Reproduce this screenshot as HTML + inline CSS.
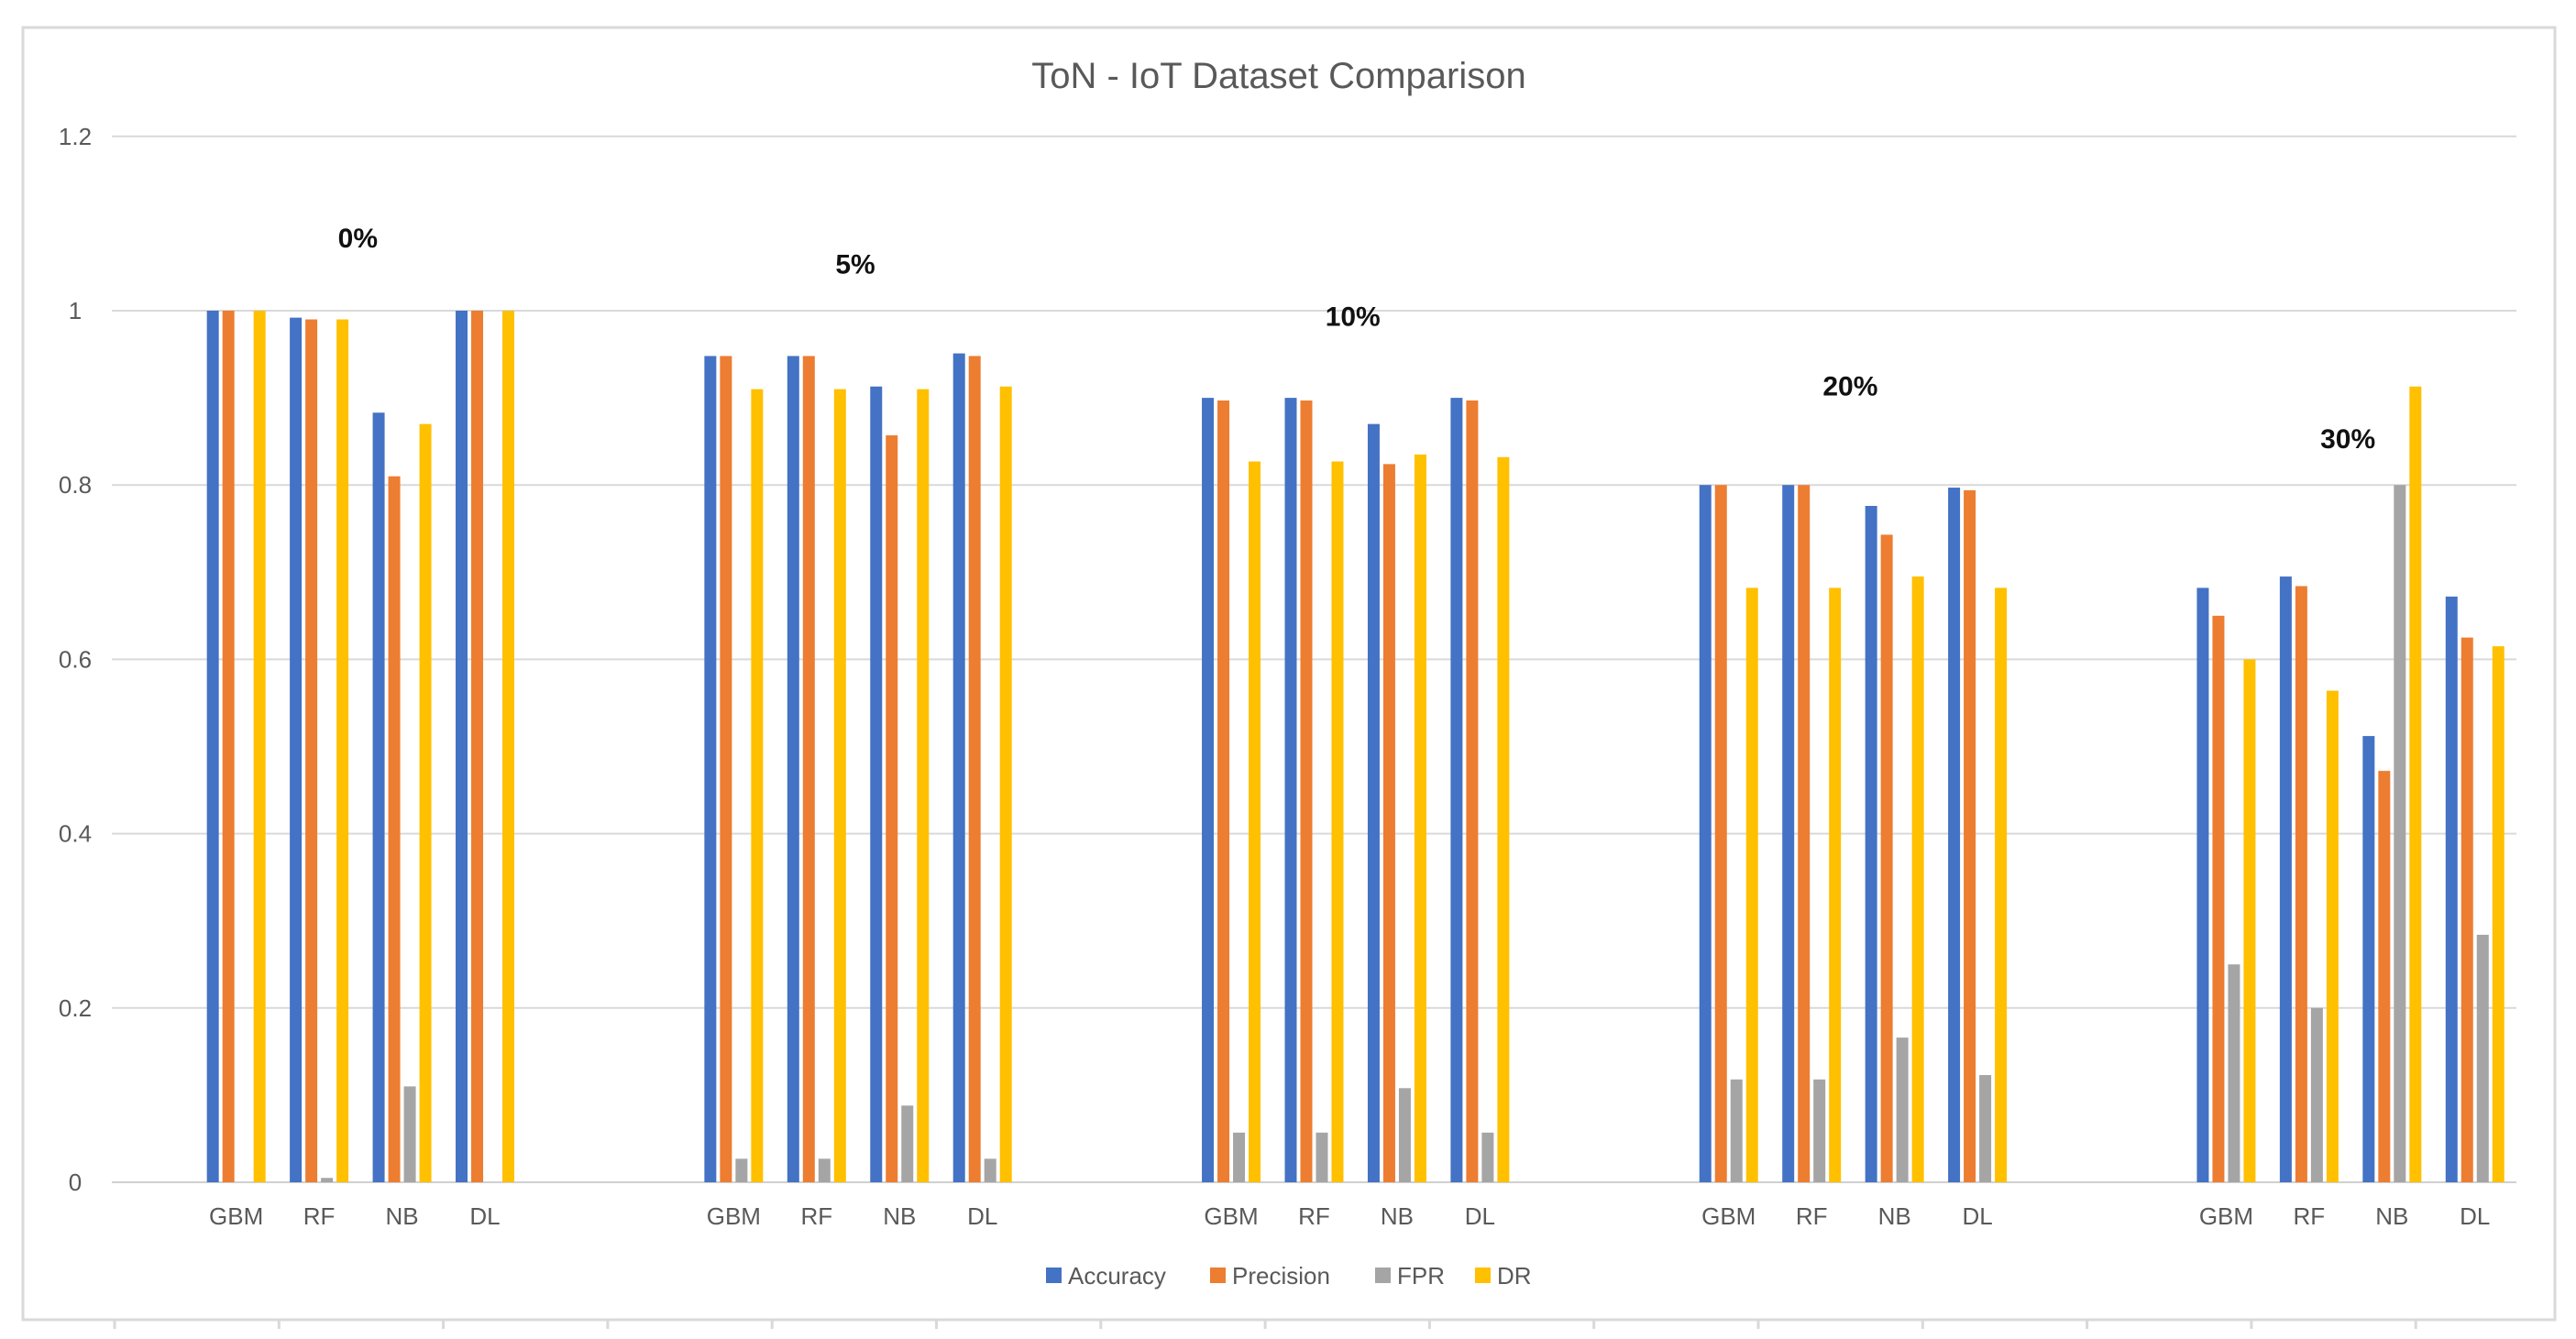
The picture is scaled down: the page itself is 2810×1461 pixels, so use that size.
<!DOCTYPE html>
<html><head><meta charset="utf-8"><style>
html,body{margin:0;padding:0;background:#fff;}
svg{display:block;font-family:"Liberation Sans",sans-serif;}
</style></head><body>
<svg id="chart" width="2810" height="1461" viewBox="0 0 2810 1461" xmlns="http://www.w3.org/2000/svg">
<rect x="25" y="30" width="2762" height="1410" fill="#fff" stroke="#d9d9d9" stroke-width="3"/>
<text x="1395" y="96" text-anchor="middle" font-size="40" fill="#595959">ToN - IoT Dataset Comparison</text>
<g id="grid"></g><g id="bars"></g><g id="labels"></g>
<g id="legend"></g>
</svg>
<script>
const groups = ["0%", "5%", "10%", "20%", "30%"];
const models = ["GBM", "RF", "NB", "DL"];
const seriesNames = ["Accuracy", "Precision", "FPR", "DR"];
const accuracy = [1, 0.992, 0.883, 1, 0.948, 0.948, 0.913, 0.951, 0.9, 0.9, 0.87, 0.9, 0.8, 0.8, 0.776, 0.797, 0.682, 0.695, 0.512, 0.672];
const precision = [1, 0.99, 0.81, 1, 0.948, 0.948, 0.857, 0.948, 0.897, 0.897, 0.824, 0.897, 0.8, 0.8, 0.743, 0.794, 0.65, 0.684, 0.472, 0.625];
const fpr = [0, 0.005, 0.11, 0, 0.027, 0.027, 0.088, 0.027, 0.057, 0.057, 0.108, 0.057, 0.118, 0.118, 0.166, 0.123, 0.25, 0.2, 0.8, 0.284];
const dr = [1, 0.99, 0.87, 1, 0.91, 0.91, 0.91, 0.913, 0.827, 0.827, 0.835, 0.832, 0.682, 0.682, 0.695, 0.682, 0.6, 0.564, 0.913, 0.615];
const yTicks = [0, 0.2, 0.4, 0.6, 0.8, 1, 1.2];
const yTickLabels = ["0", "0.2", "0.4", "0.6", "0.8", "1", "1.2"];
const groupLabelValues = [1.083, 1.053, 0.993, 0.913, 0.853];

const NS = "http://www.w3.org/2000/svg";
const colors = ["#4472C4", "#ED7D31", "#A5A5A5", "#FFC000"];
const series = [accuracy, precision, fpr, dr];
const L = 122, R = 2745, Y0 = 1290, Y1 = 339;
const nCats = 29, catW = (R - L) / nCats;
function y(v){ return Y0 - (Y0 - Y1) * v; }
function catIndex(g, m){ return 1 + g * 6 + m; }
function xc(i){ return L + (i + 0.5) * catW; }
function mk(tag, attrs, parent){ const e = document.createElementNS(NS, tag); for (const k in attrs) e.setAttribute(k, attrs[k]); parent.appendChild(e); return e; }

const grid = document.getElementById('grid');
yTicks.forEach((t, i) => {
  const ln = mk('line', {x1: L, x2: R, y1: y(t), y2: y(t), stroke: '#d9d9d9', 'stroke-width': 2}, grid);
  
  
  const tx = mk('text', {x: 82, y: y(t) + 9, 'text-anchor': 'middle', 'font-size': 26, fill: '#595959'}, grid);
  tx.textContent = yTickLabels[i];
  
  
});
for (let k = 0; k < 15; k++) {
  const tk = mk('line', {x1: 125 + k * 179.3, x2: 125 + k * 179.3, y1: 1440, y2: 1450, stroke: '#d9d9d9', 'stroke-width': 3}, grid);
  
  
}

const bars = document.getElementById('bars');
const labels = document.getElementById('labels');
const bw = 13, step = 17;
groups.forEach((g, gi) => {
  models.forEach((m, mi) => {
    const idx = gi * 4 + mi;
    const cx = xc(catIndex(gi, mi));
    series.forEach((s, si) => {
      const v = s[idx];
      const x = cx - (3 * step + bw) / 2 + si * step;
      const r = mk('rect', {x: x, y: y(v), width: bw, height: Math.max(0, Y0 - y(v)), fill: colors[si]}, bars);
      
      
    });
    const t = mk('text', {x: cx, y: 1336, 'text-anchor': 'middle', 'font-size': 26, fill: '#595959'}, labels);
    t.textContent = m;
    
    
  });
  const gx = (xc(catIndex(gi, 1)) + xc(catIndex(gi, 2))) / 2 - 3;
  const gt = mk('text', {x: gx, y: y(groupLabelValues[gi]) + 10, 'text-anchor': 'middle', 'font-size': 30, 'font-weight': 'bold', fill: '#111'}, labels);
  gt.textContent = g;
  
  
});
mk('line', {x1: L, x2: R, y1: Y0, y2: Y0, stroke: '#d0d0d0', 'stroke-width': 2}, grid);

const legend = document.getElementById('legend');
const lx = [1141, 1320, 1500, 1609];
seriesNames.forEach((n, i) => {
  const sq = mk('rect', {x: lx[i], y: 1383, width: 17, height: 17, fill: colors[i]}, legend);
  
  
  const t = mk('text', {x: lx[i] + 24, y: 1401, 'font-size': 26, fill: '#595959'}, legend);
  t.textContent = n;
  
  
});
</script>
</body></html>
